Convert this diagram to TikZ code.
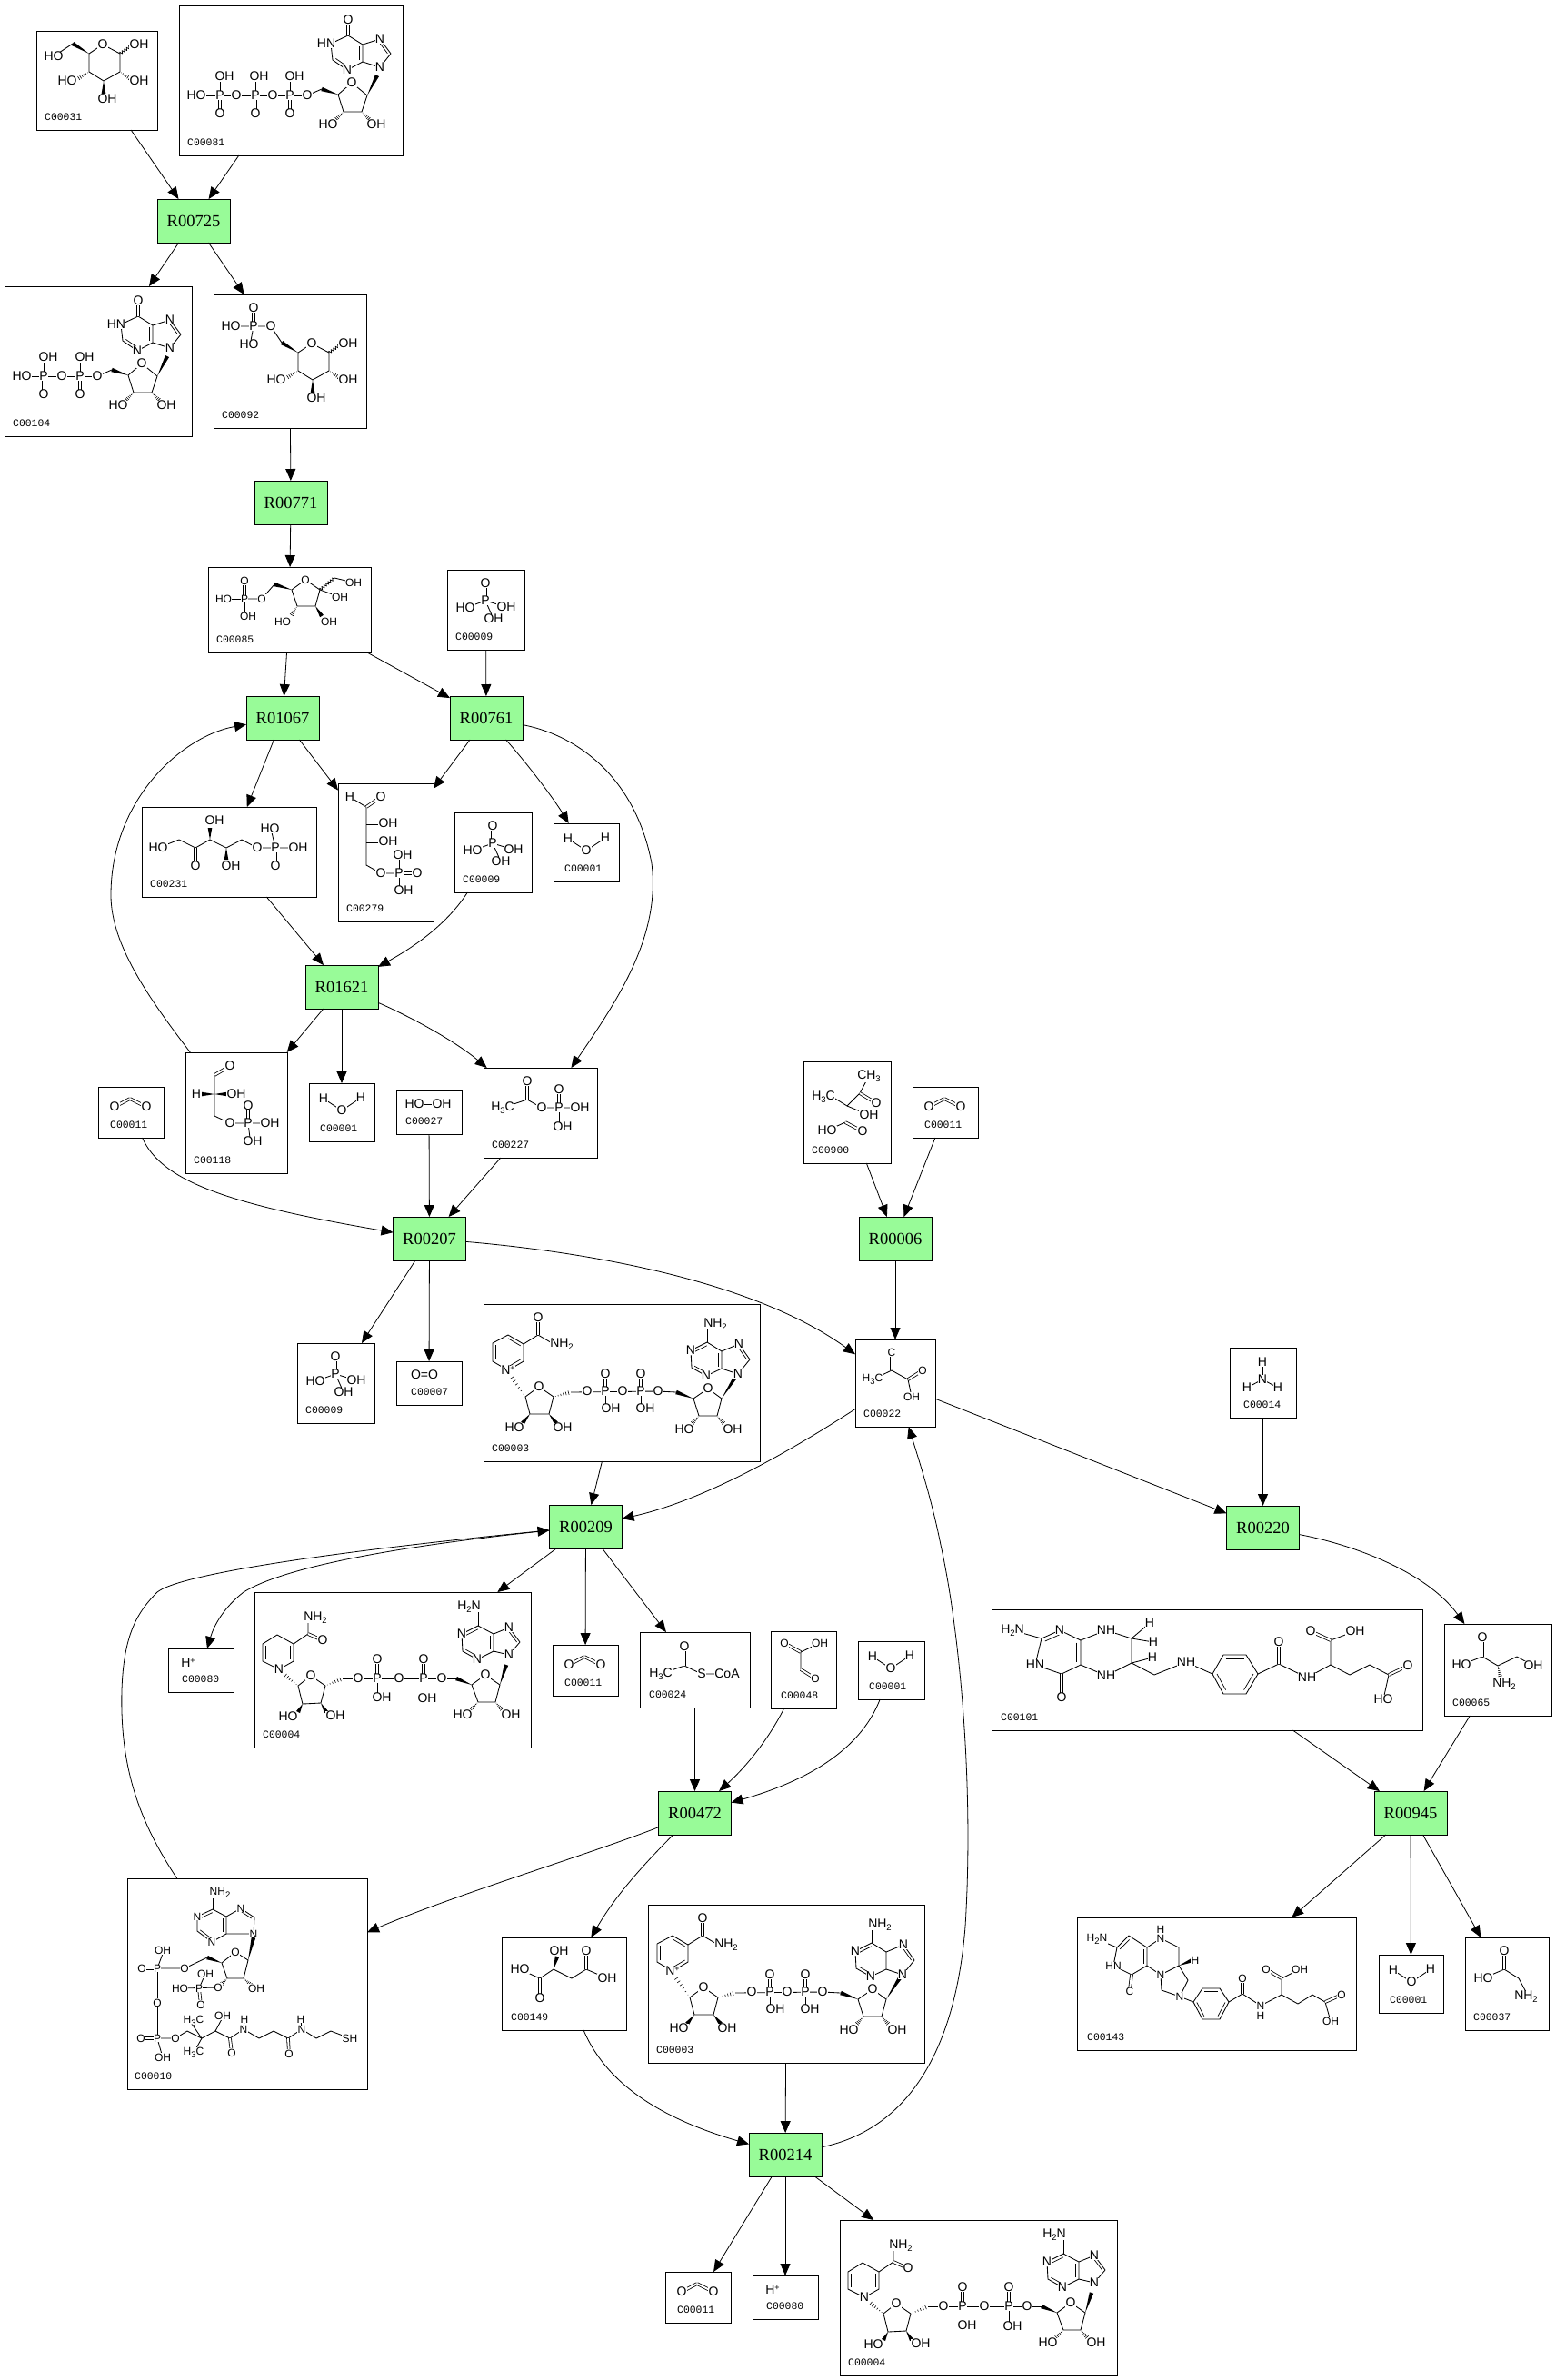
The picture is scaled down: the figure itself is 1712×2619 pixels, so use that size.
\documentclass[tikz,border=0pt]{standalone}
\usepackage{fontspec}
\setmainfont{Liberation Serif}
\newfontfamily\AF{Liberation Sans}
\newfontfamily\LF{Liberation Mono}
\usetikzlibrary{arrows.meta,calc,decorations.pathmorphing}
\definecolor{rxgreen}{HTML}{98FB98}
\tikzset{
 cbox/.style={draw=black,line width=.9pt,fill=white,inner sep=0pt,outer sep=0pt},
 clabel/.style={anchor=west,inner sep=0pt,font=\LF\fontsize{11.4}{12}\selectfont},
 rxn/.style={draw=black,line width=.9pt,fill=rxgreen,minimum width=80pt,minimum height=48pt,inner sep=0pt,outer sep=0pt,font=\rmfamily\fontsize{18.5}{20}\selectfont},
 rarrow/.style={-{Triangle[length=13pt,width=11pt]},line width=.8pt,black},
 bond/.style={line width=.85pt,black,line join=round},
 dbl/.style={line width=.8pt,black,double=white,double distance=2pt},
 atom/.style={fill=white,inner sep=.3pt,font=\AF\fontsize{14}{15}\selectfont},
 atoms/.style={fill=white,inner sep=.3pt,font=\AF\fontsize{12}{13}\selectfont},
}
\newcount\atmc
\newcommand\A[2]{\global\advance\atmc by 1 \node[atom] (atm\the\atmc) at (#1) {#2};}
\newcommand\AS[2]{\global\advance\atmc by 1 \node[atoms] (atm\the\atmc) at (#1) {#2};}
\newcommand\Sb[1]{\raisebox{-2.5pt}{\fontsize{9.5}{10}\selectfont #1}}
\newcommand\Sp[1]{\raisebox{4pt}{\fontsize{9}{10}\selectfont #1}}
\newcommand\Inr[3]{\draw[bond,line width=.7pt] ($(#1)!.2!(#3)$)--($(#2)!.2!(#3)$);}
\newcommand\Wdg[2]{\fill[black] (#1) -- ($(#2)!2.3pt!90:(#1)$) -- ($(#2)!2.3pt!-90:(#1)$) -- cycle;}
\newcommand\Hsh[2]{\foreach \t in {.12,.27,.42,.57,.72,.87,1} {\pgfmathsetmacro\w{\t*2.6}\draw[line width=.6pt,black] ($(#1)!\t!(#2)!\w pt!90:(#2)$) -- ($(#1)!\t!(#2)!\w pt!-90:(#2)$);}}
\newcommand\Wvy[2]{\draw[bond,line width=.7pt,decorate,decoration={zigzag,amplitude=1.6pt,segment length=3pt}] (#1)--(#2);}
\newcommand\CB[7]{%
 \pgfmathsetmacro\cbw{#4-#2}\pgfmathsetmacro\cbh{#5-#3}%
 \pgfmathsetmacro\cbx{(#2+#4)/2}\pgfmathsetmacro\cby{(#3+#5)/2}%
 \pgfmathsetmacro\lbx{#2+#6}\pgfmathsetmacro\lby{#5-14}%
 \node[cbox,minimum width=\cbw pt,minimum height=\cbh pt] (#1) at (\cbx,\cby) {};
 \node[clabel] (#1-l) at (\lbx,\lby) {#7};}
% water, local to box corner
\newcommand\Wtr[2]{\begin{scope}[shift={(#1,#2)}]
 \draw[bond] (16,17)--(36,30)--(57,16);
 \A{16,17}{H}\A{36,30}{O}\A{57,16}{H}\end{scope}}
% CO2, local to box corner
\newcommand\Cot[2]{\begin{scope}[shift={(#1,#2)}]
 \draw[dbl] (18,22)--(35,13);\draw[dbl] (35,13)--(53,22);
 \A{18,22}{O}\A{53,22}{O}\end{scope}}
% phosphate, coordinates of C00009 first copy
\newcommand\Phos[2]{\begin{scope}[shift={(#1,#2)}]
 \draw[bond] (534,661)--(512,669);\draw[bond] (534,661)--(557,668);\draw[bond] (534,661)--(543,681);
 \draw[dbl] (534,661)--(534,642);
 \A{534,642}{O}\A{512,669}{HO}\A{557,668}{OH}\A{543,681}{OH}\A{534,661}{P}\end{scope}}
% inosine part, coordinates of C00081
\newcommand\InoRib{
 \draw[bond] (383,39)--(364,48)--(366,66)--(382,77)--(399,68)--(399,49)--cycle;
 \draw[bond] (399,49)--(418,43)--(430,59)--(418,74)--(399,68);
 \Inr{366,66}{382,77}{383,58}\Inr{399,68}{399,49}{383,58}\Inr{418,43}{430,59}{412,58}
 \draw[dbl] (383,39)--(383,22);
 \draw[bond] (372,104)--(387,91)--(404,105)--(398,123)--(378,123)--cycle;
 \Wdg{404,105}{415,83}\Wdg{372,104}{354,98}\draw[bond] (354,98)--(338,105);
 \Hsh{378,123}{369,132}\Hsh{398,123}{407,132}
 \A{383,22}{O}\A{359,48}{HN}\A{382,77}{N}\A{418,43}{N}\A{418,74}{N}
 \A{387,91}{O}\A{361,137}{HO}\A{414,137}{OH}}
% hexose ring, coordinates of C00031
\newcommand\Hexo{
 \draw[bond] (98,59)--(113,49)--(132,59)--(132,79)--(114,89)--(98,79)--cycle;
 \Wdg{98,59}{80,48}\Wvy{132,59}{145,50}\Hsh{132,79}{144,87}\Hsh{98,79}{85,87}\Wdg{114,89}{114,103}
 \A{113,49}{O}\A{153,49}{OH}\A{153,89}{OH}\A{118,109}{OH}\A{74,89}{HO}}
\newcommand\NADp{
 \draw[bond] (559,1508)--(542,1498)--(542,1478)--(559,1469)--(576,1479)--(576,1498)--cycle;
 \Inr{542,1498}{542,1478}{559,1488}\Inr{559,1469}{576,1479}{559,1488}\Inr{576,1498}{559,1508}{559,1488}
 \draw[bond] (576,1479)--(592,1469)--(609,1479);\draw[dbl] (592,1469)--(592,1450);
 \Hsh{578,1537}{561,1513}
 \draw[bond] (578,1537)--(593,1526)--(609,1537)--(604,1556)--(583,1556)--cycle;
 \Wdg{583,1556}{575,1566}\Wdg{604,1556}{612,1566}
 \Hsh{609,1537}{628,1532}\draw[bond] (628,1532)--(724,1531)--(744,1532);
 \Wdg{763,1539}{744,1532}
 \draw[dbl] (666,1531)--(666,1512);\draw[dbl] (705,1531)--(705,1512);
 \draw[bond] (666,1531)--(666,1546);\draw[bond] (705,1531)--(705,1546);
 \draw[bond] (763,1539)--(779,1528)--(794,1539)--(789,1558)--(769,1558)--cycle;
 \Wdg{794,1539}{810,1514}\Hsh{769,1558}{761,1567}\Hsh{789,1558}{797,1567}
 \draw[bond] (778,1477)--(760,1486)--(761,1505)--(777,1514)--(794,1506)--(794,1487)--cycle;
 \draw[bond] (794,1487)--(813,1479)--(825,1496)--(812,1512)--(794,1506);
 \draw[bond] (778,1477)--(778,1460);
 \Inr{778,1477}{760,1486}{777,1496}\Inr{761,1505}{777,1514}{777,1496}\Inr{794,1506}{794,1487}{777,1496}\Inr{813,1479}{825,1496}{808,1496}
 \A{559,1508}{N\Sp{+}}\A{592,1450}{O}\A{618,1479}{NH\Sb{2}}\A{593,1526}{O}\A{566,1571}{HO}\A{619,1571}{OH}
 \A{646,1531}{O}\A{666,1531}{P}\A{666,1512}{O}\A{672,1550}{OH}\A{685,1531}{O}\A{705,1531}{P}\A{705,1512}{O}\A{710,1550}{OH}\A{724,1531}{O}
 \A{779,1528}{O}\A{753,1573}{HO}\A{806,1573}{OH}\A{812,1512}{N}\A{813,1479}{N}\A{777,1514}{N}\A{760,1486}{N}\A{787,1457}{NH\Sb{2}}}
\newcommand\NADH{
 \draw[bond] (307,1837)--(289,1828)--(289,1809)--(305,1799)--(323,1809)--(323,1828)--cycle;
 \Inr{289,1828}{289,1809}{306,1818}\Inr{323,1809}{323,1828}{306,1818}
 \draw[bond] (323,1809)--(339,1798)--(339,1782);\draw[dbl] (339,1798)--(355,1805);
 \Hsh{328,1855}{312,1842}
 \draw[bond] (328,1855)--(342,1844)--(358,1855)--(353,1874)--(333,1875)--cycle;
 \Wdg{333,1875}{328,1884}\Wdg{353,1874}{359,1884}
 \Hsh{358,1855}{377,1847}\draw[bond] (377,1847)--(486,1847)--(502,1847);
 \Wdg{519,1854}{502,1847}
 \draw[dbl] (415,1847)--(415,1826);\draw[dbl] (466,1847)--(466,1826);
 \draw[bond] (415,1847)--(415,1864);\draw[bond] (466,1847)--(466,1864);
 \draw[bond] (519,1854)--(534,1843)--(550,1854)--(545,1873)--(526,1873)--cycle;
 \Wdg{550,1854}{557,1832}\Hsh{526,1873}{517,1882}\Hsh{545,1873}{553,1882}
 \draw[bond] (526,1789)--(508,1798)--(509,1817)--(525,1826)--(543,1817)--(543,1798)--cycle;
 \draw[bond] (543,1798)--(560,1791)--(572,1807)--(560,1821)--(543,1817);
 \draw[bond] (526,1789)--(526,1772);
 \Inr{526,1789}{508,1798}{526,1808}\Inr{509,1817}{525,1826}{526,1808}\Inr{543,1817}{543,1798}{526,1808}\Inr{560,1791}{572,1807}{555,1807}
 \A{307,1837}{N}\A{347,1780}{NH\Sb{2}}\A{355,1805}{O}\A{342,1844}{O}\A{317,1889}{HO}\A{369,1888}{OH}
 \A{394,1847}{O}\A{415,1847}{P}\A{415,1826}{O}\A{420,1868}{OH}\A{439,1847}{O}\A{466,1847}{P}\A{466,1826}{O}\A{470,1869}{OH}\A{486,1847}{O}
 \A{534,1843}{O}\A{509,1887}{HO}\A{562,1887}{OH}\A{560,1821}{N}\A{560,1791}{N}\A{525,1826}{N}\A{508,1798}{N}\A{516,1768}{H\Sb{2}N}}
\begin{document}
\begin{tikzpicture}[x=1pt,y=-1pt]
\fill[white] (0,0) rectangle (1712,2619);
\useasboundingbox (0,0) rectangle (1712,2619);
% --- compound boxes
\CB{c31}{40}{34}{173}{143}{9}{C00031}
\CB{c81}{197}{6}{443}{171}{9}{C00081}
\CB{c104}{5}{315}{211}{480}{9}{C00104}
\CB{c92}{235}{324}{403}{471}{9}{C00092}
\CB{c85}{229}{624}{408}{718}{9}{C00085}
\CB{c9a}{492}{627}{577}{715}{9}{C00009}
\CB{c231}{156}{888}{348}{987}{9}{C00231}
\CB{c279}{372}{862}{477}{1014}{9}{C00279}
\CB{c9b}{500}{894}{585}{982}{9}{C00009}
\CB{c1a}{609}{906}{681}{970}{12}{C00001}
\CB{c11a}{108}{1196}{180}{1252}{13}{C00011}
\CB{c118}{204}{1158}{316}{1291}{9}{C00118}
\CB{c1b}{340}{1192}{412}{1256}{12}{C00001}
\CB{c27}{436}{1200}{508}{1248}{10}{C00027}
\CB{c227}{532}{1175}{657}{1274}{9}{C00227}
\CB{c900}{884}{1168}{980}{1280}{9}{C00900}
\CB{c11b}{1004}{1196}{1076}{1252}{13}{C00011}
\CB{c9c}{327}{1478}{412}{1566}{9}{C00009}
\CB{c7}{436}{1498}{508}{1546}{16}{C00007}
\CB{c3a}{532}{1435}{836}{1608}{9}{C00003}
\CB{c22}{941}{1474}{1029}{1570}{9}{C00022}
\CB{c14}{1353}{1483}{1426}{1560}{15}{C00014}
\CB{c80a}{185}{1814}{257}{1862}{15}{C00080}
\CB{c4a}{280}{1752}{584}{1923}{9}{C00004}
\CB{c11c}{608}{1810}{680}{1866}{13}{C00011}
\CB{c24}{704}{1796}{825}{1879}{10}{C00024}
\CB{c48}{848}{1795}{920}{1880}{11}{C00048}
\CB{c1d}{944}{1806}{1017}{1870}{12}{C00001}
\CB{c65}{1589}{1787}{1707}{1888}{9}{C00065}
\CB{c101}{1091}{1771}{1565}{1904}{10}{C00101}
\CB{c10}{140}{2067}{404}{2299}{8}{C00010}
\CB{c149}{552}{2132}{689}{2234}{10}{C00149}
\CB{c3b}{713}{2096}{1017}{2270}{9}{C00003}
\CB{c143}{1185}{2110}{1492}{2256}{11}{C00143}
\CB{c1e}{1517}{2151}{1588}{2215}{12}{C00001}
\CB{c37}{1612}{2132}{1704}{2234}{9}{C00037}
\CB{c11d}{732}{2500}{804}{2556}{13}{C00011}
\CB{c80b}{828}{2504}{900}{2552}{15}{C00080}
\CB{c4b}{924}{2443}{1229}{2614}{9}{C00004}
% --- reactions
\node[rxn] (r725) at (213,243) {R00725};
\node[rxn] (r771) at (320,553) {R00771};
\node[rxn] (r1067) at (311,790) {R01067};
\node[rxn] (r761) at (535,790) {R00761};
\node[rxn] (r1621) at (376,1086) {R01621};
\node[rxn] (r207) at (472.5,1363) {R00207};
\node[rxn] (r6) at (985,1363) {R00006};
\node[rxn] (r209) at (644.5,1680) {R00209};
\node[rxn] (r220) at (1389.5,1681) {R00220};
\node[rxn] (r472) at (764.5,1995) {R00472};
\node[rxn] (r945) at (1552,1995) {R00945};
\node[rxn] (r214) at (864,2371) {R00214};
% --- molecules
\Hexo \draw[bond] (80,48)--(59,62); \A{59,62}{HO}
\InoRib
\draw[bond] (216,105)--(338,105);
\foreach \p in {242,281,319}{\draw[dbl] (\p,105)--(\p,125);\draw[bond] (\p,105)--(\p,90);}
\A{338,105}{O}\A{319,105}{P}\A{319,125}{O}\A{324,84}{OH}\A{300,105}{O}\A{281,105}{P}\A{281,125}{O}\A{285,84}{OH}\A{260,105}{O}\A{242,105}{P}\A{242,125}{O}\A{247,84}{OH}\A{216,105}{HO}
\begin{scope}[shift={(-231,309)}]
\InoRib
\draw[bond] (255,105)--(338,105);
\foreach \p in {279,319}{\draw[dbl] (\p,105)--(\p,125);\draw[bond] (\p,105)--(\p,90);}
\A{338,105}{O}\A{319,105}{P}\A{319,125}{O}\A{324,84}{OH}\A{299,105}{O}\A{279,105}{P}\A{279,125}{O}\A{284,84}{OH}\A{255,105}{HO}
\end{scope}
\begin{scope}[shift={(230,329)}]\Hexo\end{scope}
\draw[bond] (310,377)--(298,359)--(254,359);\draw[dbl] (279,359)--(279,339);\draw[bond] (279,359)--(276,375);
\A{298,359}{O}\A{279,359}{P}\A{279,339}{O}\A{254,359}{HO}\A{274,379}{HO}
% C00085
\draw[bond] (269,659)--(288,659)--(302,643);\draw[bond] (269,659)--(246,659);\draw[bond] (269,659)--(269,675);\draw[dbl] (269,659)--(269,639);
\Wdg{321,649}{302,643}
\draw[bond] (321,649)--(336,638)--(352,649)--(347,667)--(327,667)--cycle;
\Hsh{327,667}{320,678}\Wdg{347,667}{354,678}\Wvy{352,649}{368,636}\draw[bond] (368,636)--(389,641);\draw[bond] (352,649)--(374,657);
\AS{269,639}{O}\AS{246,659}{HO}\AS{269,659}{P}\AS{273,678}{OH}\AS{288,659}{O}\AS{336,638}{O}\AS{311,684}{HO}\AS{362,684}{OH}\AS{374,657}{OH}\AS{389,641}{OH}
\Phos{0}{0}\Phos{8}{267}\Phos{-165}{851}
% C00231
\draw[bond] (174,933)--(197,924)--(215,933)--(231,924)--(249,933)--(266,924)--(283,933)--(328,933);
\draw[dbl] (215,933)--(215,953);\Wdg{231,924}{231,911}\Wdg{249,933}{249,946}
\draw[bond] (303,933)--(299,916);\draw[dbl] (303,933)--(303,953);
\A{174,933}{HO}\A{215,953}{O}\A{236,903}{OH}\A{254,953}{OH}\A{283,933}{O}\A{303,933}{P}\A{297,912}{HO}\A{328,933}{OH}\A{303,953}{O}
% C00279
\draw[bond] (385,877)--(403,888)--(403,952)--(419,961)--(459,961);\draw[dbl] (403,888)--(419,877);
\draw[bond] (403,907)--(427,907);\draw[bond] (403,927)--(427,927);
\draw[bond] (439,961)--(439,945);\draw[bond] (439,961)--(439,976);\draw[dbl] (439,961)--(459,961);
\A{385,877}{H}\A{419,877}{O}\A{427,906}{OH}\A{427,926}{OH}\A{419,961}{O}\A{439,961}{P}\A{443,941}{OH}\A{459,961}{O}\A{444,980}{OH}
\Wtr{609}{906}\Wtr{340}{1192}\Wtr{944}{1806}\Wtr{1517}{2151}
\Cot{108}{1196}\Cot{1004}{1196}\Cot{608}{1810}\Cot{732}{2500}
% C00118
\draw[dbl] (236,1183)--(253,1173);\draw[bond] (236,1183)--(236,1228)--(253,1236)--(297,1236);
\Wdg{236,1204}{222,1204}\Wdg{236,1204}{250,1204}
\draw[dbl] (273,1236)--(273,1217);\draw[bond] (273,1236)--(275,1252);
\A{253,1173}{O}\A{216,1204}{H}\A{260,1204}{OH}\A{253,1236}{O}\A{273,1236}{P}\A{273,1217}{O}\A{297,1236}{OH}\A{278,1256}{OH}
% C00027
\draw[bond] (456,1215)--(486,1215);\A{456,1215}{HO}\A{486,1215}{OH}
% C00227
\draw[bond] (553,1219)--(580,1210)--(596,1219)--(638,1219);\draw[dbl] (580,1210)--(580,1190);
\draw[dbl] (615,1219)--(615,1199);\draw[bond] (615,1219)--(615,1236);
\A{553,1219}{H\Sb{3}C}\A{580,1190}{O}\A{596,1219}{O}\A{615,1219}{P}\A{615,1199}{O}\A{638,1219}{OH}\A{619,1240}{OH}
% C00900
\draw[bond] (956,1184)--(946,1203)--(932,1217)--(919,1209);\draw[dbl] (946,1203)--(964,1214);\draw[bond] (932,1217)--(956,1227);
\draw[bond] (910,1244)--(930,1235);\draw[dbl] (930,1235)--(949,1245);
\A{956,1184}{CH\Sb{3}}\A{964,1214}{O}\A{906,1207}{H\Sb{3}C}\A{956,1227}{OH}\A{910,1244}{HO}\A{949,1245}{O}
% C00007
\A{467,1513}{O=O}
\NADp
\begin{scope}[shift={(181,661)}]\NADp\end{scope}
\NADH
\begin{scope}[shift={(644,691)}]\NADH\end{scope}
% C00022
\draw[dbl] (981,1508)--(981,1490);\draw[bond] (960,1518)--(981,1508)--(999,1518)--(1003,1537);\draw[dbl] (999,1518)--(1015,1508);
\AS{981,1488}{C}\AS{960,1518}{H\Sb{3}C}\AS{1015,1508}{O}\AS{1003,1537}{OH}
% C00014
\draw[bond] (1389,1499)--(1389,1518);\draw[bond] (1372,1527)--(1389,1518)--(1406,1527);
\A{1389,1499}{H}\A{1389,1518}{N}\A{1372,1527}{H}\A{1406,1527}{H}
% H+
\A{207,1830}{H\Sp{+}}\A{850,2520}{H\Sp{+}}
% C00024
\draw[bond] (727,1842)--(753,1833)--(772,1842)--(790,1842);\draw[dbl] (753,1833)--(753,1812);
\A{727,1842}{H\Sb{3}C}\A{753,1812}{O}\A{772,1842}{S}\A{800,1842}{CoA}
% C00048
\draw[dbl] (863,1808)--(881,1818);\draw[bond] (902,1808)--(881,1818)--(881,1837);\draw[dbl] (881,1837)--(897,1847);
\AS{863,1808}{O}\AS{902,1808}{OH}\AS{897,1847}{O}
% C00065
\draw[bond] (1608,1832)--(1631,1823)--(1648,1833)--(1669,1823)--(1687,1833);\draw[dbl] (1631,1823)--(1631,1802);\Hsh{1648,1833}{1651,1846}
\A{1631,1802}{O}\A{1608,1832}{HO}\A{1655,1853}{NH\Sb{2}}\A{1687,1833}{OH}
% C00101
\draw[bond] (1114,1794)--(1146,1803)--(1166,1794)--(1189,1805)--(1189,1832)--(1168,1842)--(1139,1832)--(1146,1803);
\Inr{1189,1805}{1189,1832}{1165,1818}\Inr{1146,1803}{1166,1794}{1165,1818}
\draw[dbl] (1168,1842)--(1168,1868);
\draw[bond] (1189,1805)--(1217,1794)--(1245,1803)--(1265,1786);\draw[bond] (1245,1803)--(1269,1807);\draw[bond] (1245,1803)--(1245,1830)--(1217,1844)--(1189,1832);
\draw[bond] (1245,1830)--(1268,1824);\draw[bond] (1245,1830)--(1270,1843)--(1305,1829)--(1334,1842);
\draw[bond] (1334,1842)--(1346,1821)--(1371,1821)--(1384,1842)--(1371,1864)--(1346,1864)--cycle;
\Inr{1346,1821}{1371,1821}{1359,1842}\Inr{1384,1842}{1371,1864}{1359,1842}\Inr{1346,1864}{1334,1842}{1359,1842}
\draw[bond] (1384,1842)--(1407,1831)--(1438,1846)--(1464,1832)--(1485,1843)--(1507,1832)--(1528,1843)--(1522,1870);
\draw[dbl] (1407,1831)--(1407,1807);\draw[bond] (1464,1832)--(1464,1805)--(1491,1795);\draw[dbl] (1464,1805)--(1442,1795);\draw[dbl] (1528,1843)--(1549,1833);
\A{1114,1794}{H\Sb{2}N}\A{1166,1794}{N}\A{1168,1868}{O}\A{1139,1832}{HN}\A{1217,1794}{NH}\A{1265,1786}{H}\A{1269,1807}{H}\A{1268,1824}{H}\A{1217,1844}{NH}\A{1305,1829}{NH}\A{1407,1807}{O}\A{1438,1846}{NH}\A{1442,1795}{O}\A{1491,1795}{OH}\A{1549,1833}{O}\A{1522,1870}{HO}
% C00010
\draw[bond] (234,2101)--(217,2109)--(217,2125)--(233,2137)--(249,2128)--(249,2109)--cycle;
\draw[bond] (249,2109)--(265,2100)--(280,2110)--(279,2128)--(249,2128);\draw[bond] (234,2101)--(234,2088);
\Inr{234,2101}{217,2109}{233,2119}\Inr{217,2125}{233,2137}{233,2119}\Inr{249,2128}{249,2109}{233,2119}\Inr{265,2100}{280,2110}{263,2115}
\Wdg{273,2157}{279,2132}
\draw[bond] (244,2160)--(259,2148)--(273,2157)--(268,2177)--(250,2177)--cycle;
\Wdg{244,2160}{228,2154}\draw[bond] (228,2154)--(203,2166)--(173,2166)--(179,2150);\draw[dbl] (173,2166)--(156,2166);\draw[bond] (173,2166)--(173,2243);
\Hsh{268,2177}{277,2185}\Hsh{250,2177}{243,2184}
\draw[bond] (240,2187)--(198,2188);\draw[bond] (219,2188)--(226,2172);\draw[dbl] (219,2188)--(221,2206);
\draw[dbl] (173,2243)--(155,2243);\draw[bond] (173,2243)--(179,2264);
\draw[bond] (173,2243)--(193,2243)--(206,2235)--(222,2243)--(237,2235)--(253,2243)--(268,2233)--(285,2243)--(301,2235)--(317,2243)--(332,2233)--(348,2243)--(364,2235)--(385,2243);
\draw[bond] (222,2243)--(213,2230);\draw[bond] (222,2243)--(213,2259);\draw[bond] (237,2235)--(245,2220);\draw[dbl] (253,2243)--(255,2259);\draw[dbl] (317,2243)--(318,2260);\draw[bond] (268,2233)--(269,2222);\draw[bond] (332,2233)--(331,2222);
\AS{242,2083}{NH\Sb{2}}\AS{217,2109}{N}\AS{233,2137}{N}\AS{265,2100}{N}\AS{279,2128}{N}\AS{259,2148}{O}\AS{203,2166}{O}\AS{173,2166}{P}\AS{179,2146}{OH}\AS{156,2166}{O}\AS{282,2188}{OH}\AS{240,2187}{O}\AS{219,2188}{P}\AS{226,2172}{OH}\AS{198,2188}{HO}\AS{221,2206}{O}
\AS{173,2204}{O}\AS{173,2243}{P}\AS{155,2243}{O}\AS{179,2264}{OH}\AS{193,2243}{O}\AS{213,2224}{H\Sb{3}C}\AS{213,2259}{H\Sb{3}C}\AS{245,2218}{OH}\AS{255,2259}{O}\AS{268,2233}{N}\AS{269,2222}{H}\AS{318,2260}{O}\AS{332,2233}{N}\AS{331,2222}{H}\AS{385,2243}{SH}
% C00149
\draw[bond] (572,2167)--(594,2177)--(609,2167)--(629,2177)--(645,2167)--(668,2177);\draw[dbl] (594,2177)--(594,2199);\draw[dbl] (645,2167)--(645,2147);\Wdg{609,2167}{613,2153}
\A{572,2167}{HO}\A{594,2199}{O}\A{615,2147}{OH}\A{645,2147}{O}\A{668,2177}{OH}
% C00143
\draw[bond] (1207,2134)--(1229,2143)--(1242,2130)--(1262,2143)--(1262,2163)--(1245,2173)--(1225,2163)--(1229,2143);
\Inr{1262,2143}{1262,2163}{1245,2152}\Inr{1229,2143}{1242,2130}{1245,2152}\draw[dbl] (1245,2173)--(1243,2189);
\draw[bond] (1262,2143)--(1277,2133)--(1297,2143)--(1297,2163)--(1277,2173)--(1262,2163);
\Wdg{1297,2163}{1312,2157}\draw[bond] (1277,2173)--(1278,2190)--(1298,2197)--(1307,2179)--(1297,2163);\draw[bond] (1298,2197)--(1313,2203);
\draw[bond] (1313,2203)--(1323,2188)--(1342,2188)--(1352,2203)--(1342,2222)--(1323,2222)--cycle;
\Inr{1323,2188}{1342,2188}{1332,2205}\Inr{1352,2203}{1342,2222}{1332,2205}\Inr{1323,2222}{1313,2203}{1332,2205}
\draw[bond] (1352,2203)--(1367,2194)--(1387,2207)--(1410,2195)--(1428,2205)--(1444,2195)--(1458,2203)--(1464,2224);
\draw[dbl] (1367,2194)--(1367,2177);\draw[bond] (1410,2195)--(1410,2177)--(1430,2167);\draw[dbl] (1410,2177)--(1393,2167);\draw[dbl] (1458,2203)--(1476,2195);
\AS{1207,2134}{H\Sb{2}N}\AS{1243,2191}{C}\AS{1225,2163}{HN}\AS{1277,2133}{N}\AS{1277,2123}{H}\AS{1315,2157}{H}\AS{1277,2173}{N}\AS{1298,2197}{N}\AS{1367,2177}{O}\AS{1387,2207}{N}\AS{1387,2218}{H}\AS{1393,2167}{O}\AS{1430,2167}{OH}\AS{1476,2195}{O}\AS{1464,2224}{OH}
% C00037
\draw[bond] (1632,2177)--(1655,2167)--(1671,2177)--(1679,2192);\draw[dbl] (1655,2167)--(1655,2147);
\A{1655,2147}{O}\A{1632,2177}{HO}\A{1679,2197}{NH\Sb{2}}
% --- connectors
\draw[rarrow] (c31)--(r725);
\draw[rarrow] (c81)--(r725);
\draw[rarrow] (r725)--(c104);
\draw[rarrow] (r725)--(c92);
\draw[rarrow] (c92)--(r771);
\draw[rarrow] (r771)--(c85);
\draw[rarrow] (c85)--(r1067);
\draw[rarrow] (c85)--(r761);
\draw[rarrow] (c9a)--(r761);
\draw[rarrow] (r1067)--(c231);
\draw[rarrow] (r1067)--(c279);
\draw[rarrow] (r761)--(c279);
\draw[rarrow] (r761) .. controls (580,840) and (610,880) .. (c1a);
\draw[rarrow] (r761) .. controls (640,810) and (700,860) .. (717,950) .. controls (727,1030) and (680,1100) .. (c227);
\draw[rarrow] (c118) .. controls (165,1100) and (122,1040) .. (122,985) .. controls (122,880) and (200,810) .. (r1067);
\draw[rarrow] (c231)--(r1621);
\draw[rarrow] (c9b) .. controls (490,1020) and (450,1045) .. (r1621);
\draw[rarrow] (r1621)--(c118);
\draw[rarrow] (r1621)--(c1b);
\draw[rarrow] (r1621) .. controls (450,1118) and (500,1145) .. (c227);
\draw[rarrow] (c11a) .. controls (178,1300) and (250,1325) .. (r207);
\draw[rarrow] (c27)--(r207);
\draw[rarrow] (c227)--(r207);
\draw[rarrow] (r207)--(c9c);
\draw[rarrow] (r207)--(c7);
\draw[rarrow] (r207) .. controls (650,1378) and (830,1410) .. (c22);
\draw[rarrow] (c900)--(r6);
\draw[rarrow] (c11b)--(r6);
\draw[rarrow] (r6)--(c22);
\draw[rarrow] (c3a)--(r209);
\draw[rarrow] (c22) .. controls (880,1590) and (780,1650) .. (r209);
\draw[rarrow] (c22)--(r220);
\draw[rarrow] (c14)--(r220);
\draw[rarrow] (r220) .. controls (1490,1700) and (1570,1730) .. (c65);
\draw[rarrow] (r209) .. controls (470,1698) and (320,1720) .. (268,1752) .. controls (245,1770) and (235,1790) .. (c80a);
\draw[rarrow] (r209)--(c4a);
\draw[rarrow] (r209)--(c11c);
\draw[rarrow] (r209)--(c24);
\draw[rarrow] (c10) .. controls (150,2000) and (132,1940) .. (134,1860) .. controls (136,1800) and (150,1775) .. (173,1752) .. controls (200,1730) and (400,1704) .. (r209);
\draw[rarrow] (c24)--(r472);
\draw[rarrow] (c48) .. controls (845,1915) and (820,1945) .. (r472);
\draw[rarrow] (c1d) .. controls (945,1930) and (880,1962) .. (r472);
\draw[rarrow] (r472) .. controls (650,2040) and (500,2085) .. (c10);
\draw[rarrow] (r472) .. controls (700,2060) and (675,2090) .. (c149);
\draw[rarrow] (c149) .. controls (670,2300) and (740,2335) .. (r214);
\draw[rarrow] (c3b)--(r214);
\draw[rarrow] (r214) .. controls (990,2345) and (1050,2270) .. (1062,2120) .. controls (1072,1960) and (1055,1790) .. (1035,1700) .. controls (1025,1650) and (1012,1610) .. (c22);
\draw[rarrow] (r214)--(c11d);
\draw[rarrow] (r214)--(c80b);
\draw[rarrow] (r214)--(c4b);
\draw[rarrow] (c101)--(r945);
\draw[rarrow] (c65)--(r945);
\draw[rarrow] (r945)--(c143);
\draw[rarrow] (r945)--(c1e);
\draw[rarrow] (r945)--(c37);
\end{tikzpicture}
\end{document}
